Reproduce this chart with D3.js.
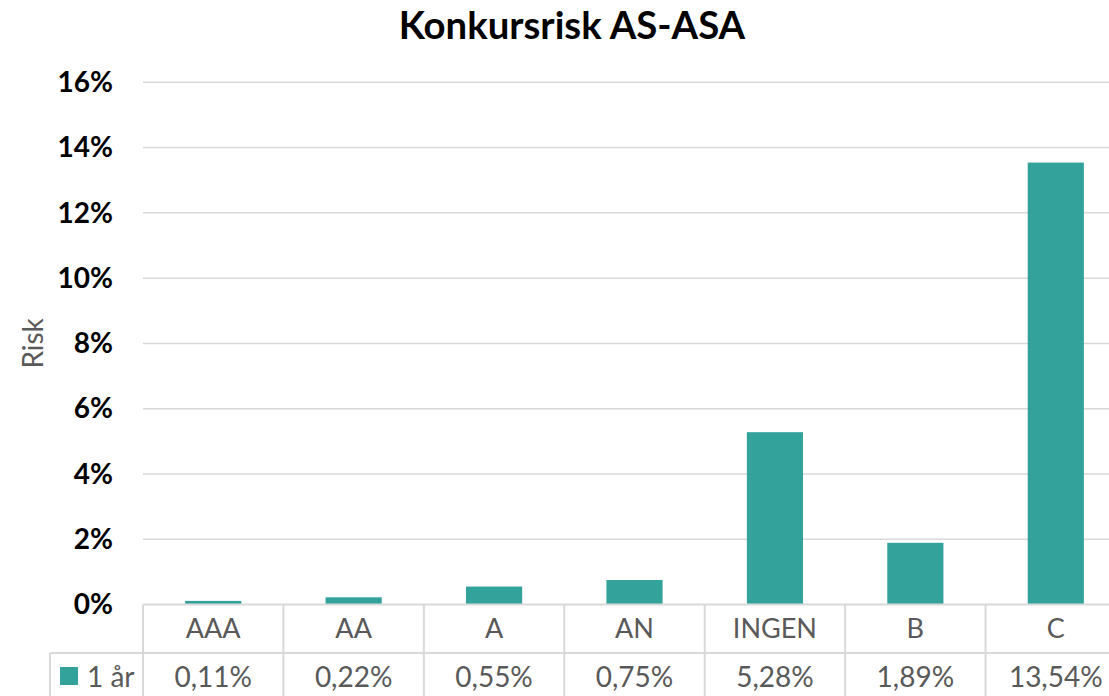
<!DOCTYPE html>
<html>
<head>
<meta charset="utf-8">
<script src="https://cdn.jsdelivr.net/npm/d3@7"></script>
<style>
  body { margin: 0; background: #fff; overflow: hidden; }
  svg { display: block; font-family: Lato, "Open Sans", sans-serif; }
</style>
</head>
<body>
<svg id="chart" width="1109" height="696"></svg>
<script>
// chart data
const categories = ['AAA', 'AA', 'A', 'AN', 'INGEN', 'B', 'C']
const seriesName = '1 år'
const values = [0.11, 0.22, 0.55, 0.75, 5.28, 1.89, 13.54]
const yTicks = [0, 2, 4, 6, 8, 10, 12, 14, 16]

const svg = d3.select('#chart')
const teal = '#32A29B'
const grid = '#d9d9d9'
const textGray = '#595959'
const fs = 27

const plotLeft = 143, plotRight = 1126 // plot runs past the right edge, like the reference
const plotTop = 82.3, plotBottom = 604.5
const rowH = 48.5

let x = d3.scaleBand()
  .domain(categories)
  .range([plotLeft, plotRight])
  .paddingInner(0.6)
  .paddingOuter(0.3)

let xCol = d3.scaleBand()
  .domain(categories)
  .range([plotLeft, plotRight])

let y = d3.scaleLinear()
  .domain([0, 16])
  .range([plotBottom, plotTop])

// Title
svg.append('text')
  .attr('x', 572)
  .attr('y', 39)
  .attr('text-anchor', 'middle')
  .attr('font-size', 38.3)
  .attr('font-weight', 'bold')
  .attr('fill', '#000')
  .text('Konkursrisk AS-ASA')

// Gridlines
svg.append('g')
  .selectAll('line')
  .data(yTicks.filter(d => d > 0))
  .enter()
  .append('line')
  .attr('x1', plotLeft)
  .attr('x2', plotRight)
  .attr('y1', d => y(d))
  .attr('y2', d => y(d))
  .attr('stroke', grid)
  .attr('stroke-width', 1.5)

// Y tick labels
svg.append('g')
  .selectAll('text')
  .data(yTicks)
  .enter()
  .append('text')
  .attr('x', 113)
  .attr('y', d => y(d))
  .attr('dy', '0.35em')
  .attr('text-anchor', 'end')
  .attr('font-size', 28)
  .attr('font-weight', 'bold')
  .attr('fill', '#000')
  .text(d => d + '%')

// Y axis title
svg.append('text')
  .attr('transform', 'translate(43,' + ((plotTop + plotBottom) / 2) + ') rotate(-90)')
  .attr('text-anchor', 'middle')
  .attr('font-size', 28)
  .attr('fill', textGray)
  .text('Risk')

// Bars
svg.append('g')
  .selectAll('rect')
  .data(values)
  .enter()
  .append('rect')
  .attr('x', (d, i) => x(categories[i]))
  .attr('width', x.bandwidth())
  .attr('y', d => y(d))
  .attr('height', d => plotBottom - y(d))
  .attr('fill', teal)

// Data table
let table = svg.append('g')
  .attr('stroke', grid)
  .attr('stroke-width', 2)
  .attr('fill', 'none')

table.append('line')
  .attr('x1', plotLeft).attr('x2', plotRight)
  .attr('y1', plotBottom).attr('y2', plotBottom)
table.append('line')
  .attr('x1', 50).attr('x2', plotRight)
  .attr('y1', plotBottom + rowH).attr('y2', plotBottom + rowH)
table.append('line')
  .attr('x1', 50).attr('x2', 50)
  .attr('y1', plotBottom + rowH).attr('y2', 700)

table.selectAll('.col')
  .data(categories.concat(['end']))
  .enter()
  .append('line')
  .attr('class', 'col')
  .attr('x1', (d, i) => plotLeft + i * xCol.step())
  .attr('x2', (d, i) => plotLeft + i * xCol.step())
  .attr('y1', plotBottom)
  .attr('y2', 700)

// Category labels
svg.append('g')
  .selectAll('text')
  .data(categories)
  .enter()
  .append('text')
  .attr('x', d => xCol(d) + xCol.bandwidth() / 2)
  .attr('y', plotBottom + rowH / 2)
  .attr('dy', '0.35em')
  .attr('text-anchor', 'middle')
  .attr('font-size', fs)
  .attr('fill', textGray)
  .text(d => d)

// Value labels
svg.append('g')
  .selectAll('text')
  .data(values)
  .enter()
  .append('text')
  .attr('x', (d, i) => xCol(categories[i]) + xCol.bandwidth() / 2)
  .attr('y', plotBottom + rowH + 24)
  .attr('dy', '0.35em')
  .attr('text-anchor', 'middle')
  .attr('font-size', 28)
  .attr('fill', textGray)
  .text(d => d.toFixed(2).replace('.', ',') + '%')

// Legend key
svg.append('rect')
  .attr('x', 60)
  .attr('y', 667)
  .attr('width', 18)
  .attr('height', 18)
  .attr('fill', teal)

svg.append('text')
  .attr('x', 87)
  .attr('y', plotBottom + rowH + 24)
  .attr('dy', '0.35em')
  .attr('font-size', 28)
  .attr('fill', textGray)
  .text(seriesName)
</script>
</body>
</html>
